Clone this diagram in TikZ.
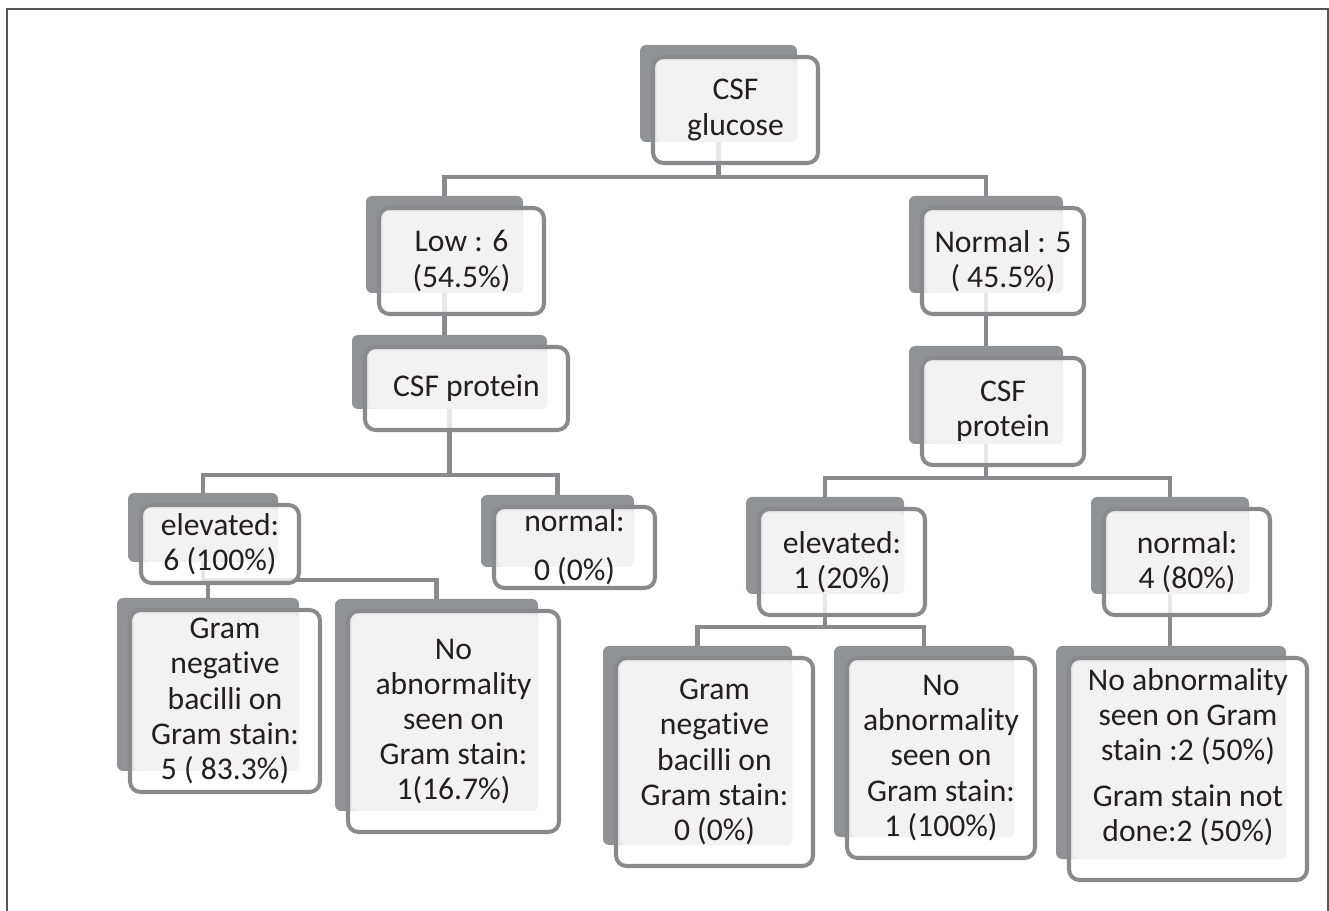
\documentclass[tikz,border=0pt]{standalone}
\usepackage{fontspec}
\setmainfont{Carlito}[Ligatures=NoCommon]
\usepackage{tikz}
\usetikzlibrary{calc, backgrounds}
\definecolor{shadegray}{RGB}{145,146,150}
\definecolor{rimgray}{RGB}{138,138,142}
\definecolor{panegray}{RGB}{242,242,242}
\definecolor{inkgray}{RGB}{35,31,32}
\definecolor{framegray}{RGB}{85,85,85}

% stacked box: dark tab, pale pane, rimmed front with the text
% #2 name, #3-#6 corners of the front box (pixels), #7 text
\newcommand{\gbox}[7][]{%
  \fill[shadegray, rounded corners=3.5pt] ({#3-13},{#4-12}) rectangle ({#5-21},{#6-21});
  \fill[white, fill opacity=0.8, rounded corners=6pt] (#3,#4) rectangle (#5,#6);
  \fill[panegray, rounded corners=3pt] ({#3+4},{#4+4}) rectangle ({#5-21},{#6-21});
  \node[front, minimum width={(#5-#3)*0.02cm}, minimum height={(#6-#4)*0.02cm}, #1] (#2) at ({(#3+#5)/2},{(#4+#6)/2}) {#7};
  \coordinate (#2-top) at ({(#3+#5)/2-17},{#4-12});
  \coordinate (#2-bot) at ({(#3+#5)/2-17},{(#4+#6)/2});
}

\begin{document}
\begin{tikzpicture}[x=0.02cm, y=-0.02cm,
    front/.style={draw=rimgray, line width=2.3pt, rounded corners=6pt, align=center,
      text=inkgray, inner sep=0pt, font=\fontsize{18}{20}\selectfont},
    conn/.style={rimgray, line width=2.8pt}]
    \useasboundingbox (0,0) rectangle (1329,911);

    % Outer frame (open at the bottom)
    \draw[framegray, line width=1.1pt] (7,911) -- (7,9) -- (1328,9) -- (1328,911);

    % Top: glucose
    \gbox{glu}{653}{57}{818}{163}{CSF\\glucose}

    % Glucose split
    \gbox{low}{379}{208}{544}{314}{Low : 6\\(54.5\%)}
    \gbox{nor}{922}{208}{1084}{314}{Normal : 5\\( 45.5\%)}

    % Protein
    \gbox{protL}{365}{347}{568}{430}{CSF protein}
    \gbox{protR}{922}{358}{1084}{465}{CSF\\protein}

    % Protein split
    \gbox{elevL}{141}{505}{299}{583}{elevated:\\6 (100\%)}
    \gbox{normL}{494}{507}{655}{588}{normal:\\[8pt]0 (0\%)}
    \gbox{elevR}{759}{509}{925}{615}{elevated:\\1 (20\%)}
    \gbox{normR}{1104}{509}{1270}{615}{normal:\\4 (80\%)}

    % Gram stain results
    \gbox{gramL}{130}{610}{320}{792}{Gram\\negative\\bacilli on\\Gram stain:\\5 ( 83.3\%)}
    \gbox{noneL}{348}{611}{559}{832}{No\\abnormality\\seen on\\Gram stain:\\1(16.7\%)}
    \gbox{gramR}{616}{658}{813}{866}{Gram\\negative\\bacilli on\\Gram stain:\\0 (0\%)}
    \gbox{noneR}{847}{658}{1035}{858}{No\\abnormality\\seen on\\Gram stain:\\1 (100\%)}
    \gbox[text depth=16pt]{mixR}{1069}{658}{1307}{880}{No abnormality\\seen on Gram\\stain :2 (50\%)\\[6pt]Gram stain not\\done:2 (50\%)}

    % Bar heights
    \coordinate (bar0) at (0,177);
    \coordinate (barL) at (0,475);
    \coordinate (barR) at (0,478);
    \coordinate (barLL) at (0,580);
    \coordinate (barRL) at (0,627);

    % Connectors, behind the boxes
    \begin{pgfonlayer}{background}
    \draw[conn] (glu-bot) -- (glu-bot |- bar0) -| (low-top);
    \draw[conn] (glu-bot |- bar0) -| (nor-top);
    \draw[conn] (low-bot) -- (low-bot |- protL-top);
    \draw[conn] (nor-bot) -- (nor-bot |- protR-top);
    \draw[conn] (protL-bot) -- (protL-bot |- barL) -| (elevL-top);
    \draw[conn] (protL-bot |- barL) -| (normL-top);
    \draw[conn] (protR-bot) -- (protR-bot |- barR) -| (elevR-top);
    \draw[conn] (protR-bot |- barR) -| (normR-top);
    \draw[conn] (elevL-bot) -- (elevL-bot |- barLL) -| (gramL-top);
    \draw[conn] (elevL-bot |- barLL) -| (noneL-top);
    \draw[conn] (elevR-bot) -- (elevR-bot |- barRL) -| (gramR-top);
    \draw[conn] (elevR-bot |- barRL) -| (noneR-top);
    \draw[conn] (normR-bot) -- (normR-bot |- mixR-top);
    \end{pgfonlayer}
\end{tikzpicture}
\end{document}
